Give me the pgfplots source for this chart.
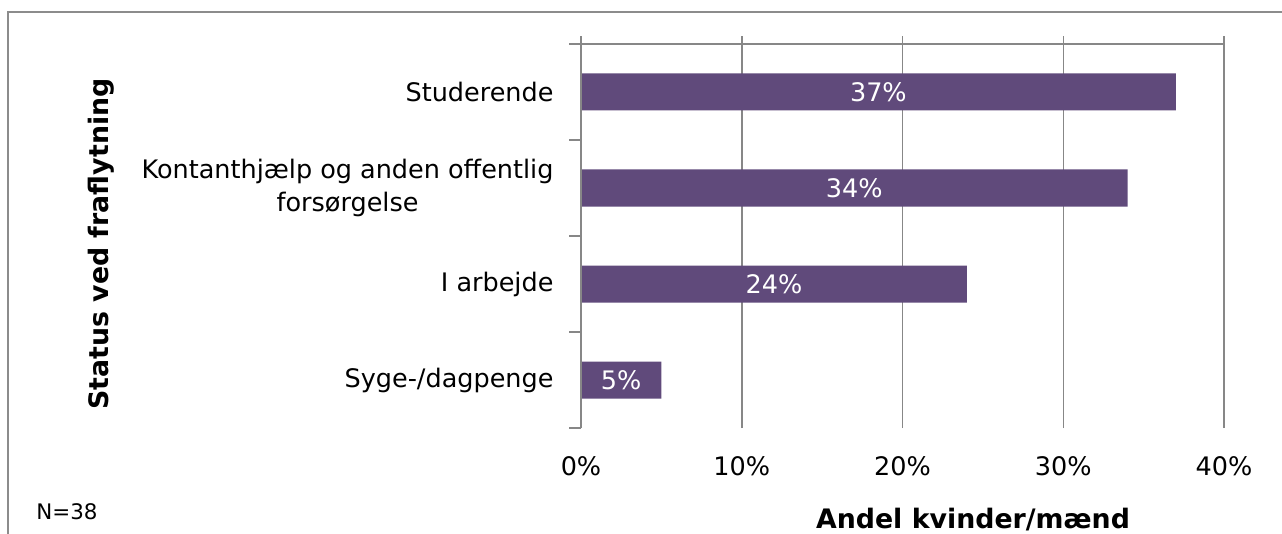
\documentclass[border=0pt]{standalone}
\usepackage{pgfplots}
\pgfplotsset{compat=1.18}
\usepackage{pgfplotstable}
\usepackage{fontspec}
\setmainfont{DejaVu Sans}
\definecolor{barpurple}{HTML}{604A7B}
\definecolor{linegray}{HTML}{878787}
\definecolor{bordergray}{HTML}{8C8C8C}
\pgfplotstableread{
pos val
0 5
1 24
2 34
3 37
}\datatable
\begin{document}
\begin{tikzpicture}
\useasboundingbox (0pt,0pt) rectangle (1282pt,-534pt);
\draw[bordergray,line width=2pt] (8pt,-600pt) -- (8pt,-12pt) -- (1300pt,-12pt);
\begin{axis}[
  at={(581pt,-428pt)}, anchor=south west,
  scale only axis, width=643pt, height=384pt,
  xmin=0, xmax=40, ymin=-0.5, ymax=3.5,
  axis line style={draw=none},
  xtick={0,10,20,30,40},
  xticklabels={0\%,10\%,20\%,30\%,40\%},
  xtick pos=upper, xticklabel pos=lower,
  tick align=outside,
  major tick length=8pt,
  xtick style={linegray, line width=1.5pt},
  xmajorgrids, major grid style={linegray, line width=1.5pt},
  ytick={0,1,2,3},
  yticklabels={Syge-/dagpenge, I arbejde, {Kontanthjælp og anden offentlig\\forsørgelse}, Studerende},
  ytick style={draw=none},
  yticklabel style={align=center, font=\fontsize{25.5}{33}\selectfont, xshift=-16pt},
  xticklabel style={font=\fontsize{25.5}{31}\selectfont, yshift=-17pt},
  clip=false,
]
\addplot[xbar, bar width=37pt, fill=barpurple, draw=none] table[x=val, y=pos] {\datatable};
\addplot[draw=none, mark=none, nodes near coords={\pgfmathprintnumber[assume math mode=true]{\pgfplotspointmeta}\%},
  point meta=\thisrow{val},
  every node near coord/.style={anchor=center, text=white, font=\fontsize{25.5}{31}\selectfont}]
  table[x expr=\thisrow{val}/2, y=pos] {\datatable};
\draw[linegray, line width=1.5pt] (rel axis cs:0,0) -- (rel axis cs:0,1) -- (rel axis cs:1,1);
\pgfplotsinvokeforeach{-0.5,0.5,1.5,2.5,3.5}{
  \draw[linegray, line width=1.5pt] (axis cs:0,#1) -- ++(-12pt,0pt);
}
\end{axis}
\node[rotate=90, font=\bfseries\fontsize{26.8}{32}\selectfont] at (101pt,-244pt) {Status ved fraflytning};
\node[font=\bfseries\fontsize{26.8}{32}\selectfont] at (973pt,-520pt) {Andel kvinder/mænd};
\node[font=\fontsize{21.4}{26}\selectfont] at (67pt,-512pt) {N=38};
\end{tikzpicture}
\end{document}
